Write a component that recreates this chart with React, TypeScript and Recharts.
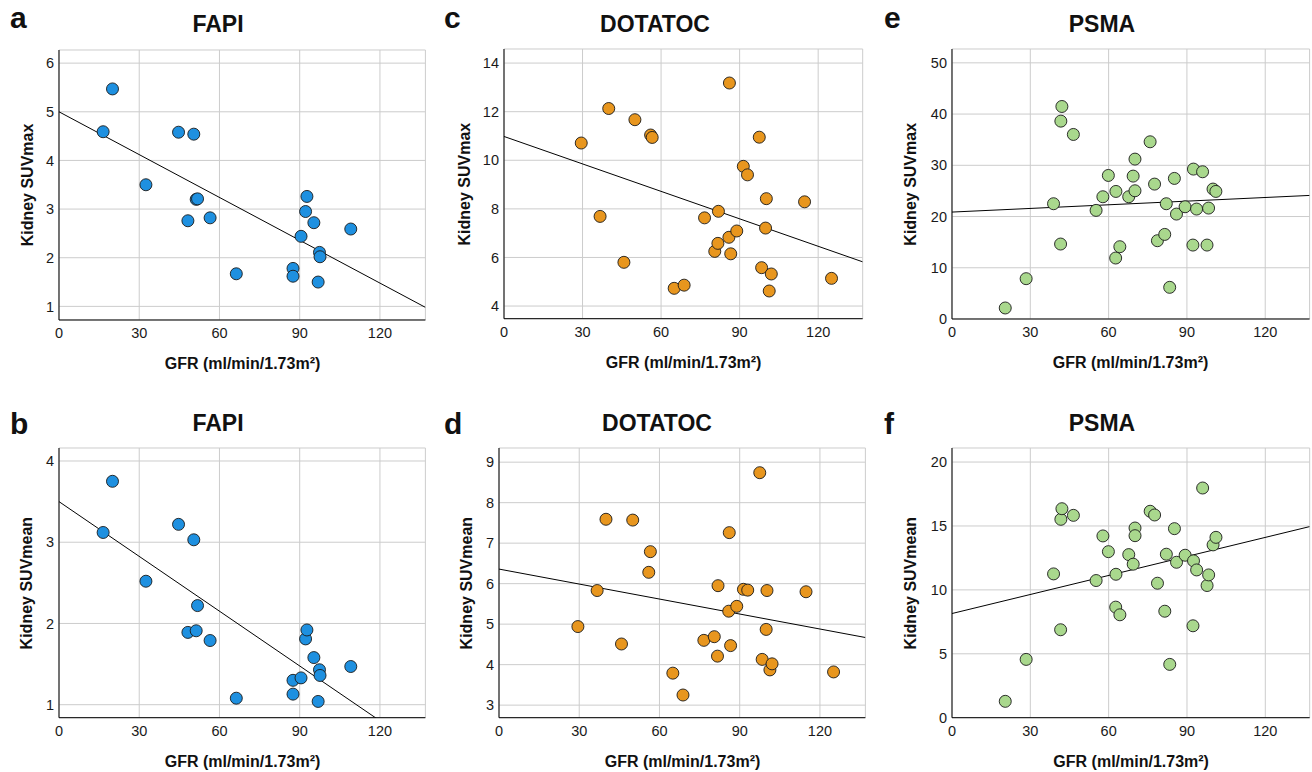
import React from "react";
import {
  ScatterChart,
  Scatter,
  XAxis,
  YAxis,
  CartesianGrid,
  ReferenceLine
} from "recharts";

// GFR values per tracer (ml/min/1.73m²)
const FAPI_GFR = [16.5, 20.0, 32.5, 44.7, 48.2, 50.4, 51.3, 51.8, 56.5, 66.3, 87.5, 87.5, 90.5, 92.2, 92.7, 95.3, 96.9, 97.4, 97.6, 109.1];
const FAPI_MAX = [4.59, 5.47, 3.5, 4.58, 2.76, 4.54, 3.2, 3.21, 2.82, 1.67, 1.78, 1.62, 2.44, 2.95, 3.26, 2.72, 1.5, 2.11, 2.02, 2.59];
const FAPI_MEAN = [3.12, 3.75, 2.52, 3.22, 1.89, 3.03, 1.91, 2.22, 1.79, 1.08, 1.3, 1.13, 1.33, 1.81, 1.92, 1.58, 1.04, 1.43, 1.36, 1.47];

const DOTATOC_GFR = [29.5, 36.7, 40.0, 45.8, 50.0, 56.0, 56.6, 65.0, 68.8, 76.6, 80.5, 81.7, 81.9, 85.9, 86.1, 86.6, 88.9, 91.4, 93.0, 97.5, 98.4, 99.9, 100.2, 101.3, 102.1, 114.8, 125.1];
const DOTATOC_MAX = [10.71, 7.69, 12.13, 5.8, 11.67, 11.04, 10.94, 4.73, 4.86, 7.63, 6.25, 6.58, 7.9, 6.83, 13.18, 6.15, 7.09, 9.75, 9.4, 10.95, 5.58, 7.21, 8.42, 4.62, 5.32, 8.29, 5.14];
const DOTATOC_MEAN = [4.94, 5.83, 7.59, 4.51, 7.57, 6.28, 6.79, 3.79, 3.25, 4.6, 4.69, 4.21, 5.95, 5.32, 7.26, 4.47, 5.44, 5.86, 5.84, 8.74, 4.13, 4.87, 5.83, 3.87, 4.02, 5.8, 3.82];

const PSMA_GFR = [20.4, 28.4, 38.9, 41.6, 41.7, 42.1, 46.5, 55.2, 57.8, 59.9, 62.7, 62.8, 64.3, 67.7, 69.4, 70.1, 70.1, 75.9, 77.6, 78.7, 81.5, 82.1, 83.4, 85.2, 86.0, 89.3, 92.3, 92.5, 93.7, 96.0, 97.7, 98.3, 100.0, 101.1];
const PSMA_MAX = [2.15, 7.87, 22.5, 14.63, 38.62, 41.48, 36.02, 21.2, 23.86, 28.02, 11.9, 24.9, 14.11, 23.86, 27.89, 31.21, 25.03, 34.59, 26.33, 15.28, 16.51, 22.5, 6.18, 27.44, 20.48, 21.91, 14.43, 29.26, 21.46, 28.74, 14.43, 21.65, 25.36, 24.9];
const PSMA_MEAN = [1.28, 4.56, 11.25, 6.88, 15.52, 16.35, 15.83, 10.73, 14.22, 12.99, 8.65, 11.22, 8.05, 12.76, 12.01, 14.84, 14.24, 16.15, 15.86, 10.52, 8.33, 12.79, 4.17, 14.79, 12.16, 12.71, 7.19, 12.27, 11.56, 17.97, 10.34, 11.17, 13.52, 14.11];

// fit lines: value at x = 0 and at x = 137
const FIT_X = [0, 137];
const FAPI_MAX_FIT = [5.0, 0.98];
const FAPI_MEAN_FIT = [3.5, 0.42];
const DOTATOC_MAX_FIT = [10.98, 5.82];
const DOTATOC_MEAN_FIT = [6.36, 4.67];
const PSMA_MAX_FIT = [20.87, 24.12];
const PSMA_MEAN_FIT = [8.15, 14.95];

const X_TICKS = [0, 30, 60, 90, 120];
const X_DOMAIN = [0, 137];

const panels = [
  { letter: "a", title: "FAPI", yLabel: "Kidney SUVmax", gfr: FAPI_GFR, suv: FAPI_MAX, fit: FAPI_MAX_FIT, color: "#1e90e0", domain: [0.72, 6.27], ticks: [1, 2, 3, 4, 5, 6] },
  { letter: "c", title: "DOTATOC", yLabel: "Kidney SUVmax", gfr: DOTATOC_GFR, suv: DOTATOC_MAX, fit: DOTATOC_MAX_FIT, color: "#e8961e", domain: [3.48, 14.58], ticks: [4, 6, 8, 10, 12, 14] },
  { letter: "e", title: "PSMA", yLabel: "Kidney SUVmax", gfr: PSMA_GFR, suv: PSMA_MAX, fit: PSMA_MAX_FIT, color: "#a9d88d", domain: [0, 52.7], ticks: [0, 10, 20, 30, 40, 50] },
  { letter: "b", title: "FAPI", yLabel: "Kidney SUVmean", gfr: FAPI_GFR, suv: FAPI_MEAN, fit: FAPI_MEAN_FIT, color: "#1e90e0", domain: [0.84, 4.16], ticks: [1, 2, 3, 4] },
  { letter: "d", title: "DOTATOC", yLabel: "Kidney SUVmean", gfr: DOTATOC_GFR, suv: DOTATOC_MEAN, fit: DOTATOC_MEAN_FIT, color: "#e8961e", domain: [2.69, 9.35], ticks: [3, 4, 5, 6, 7, 8, 9] },
  { letter: "f", title: "PSMA", yLabel: "Kidney SUVmean", gfr: PSMA_GFR, suv: PSMA_MEAN, fit: PSMA_MEAN_FIT, color: "#a9d88d", domain: [0, 21.1], ticks: [0, 5, 10, 15, 20] }
];

// plot-area boxes in page pixels, plus where the labels sit
const layout = [
  { left: 59.3, right: 425.7, top: 50, bottom: 320, letterX: 10, titleX: 218, yLabelX: 27 },
  { left: 504.3, right: 863, top: 49.3, bottom: 319, letterX: 444, titleX: 655, yLabelX: 465 },
  { left: 951.7, right: 1309.3, top: 49.3, bottom: 319.3, letterX: 884, titleX: 1102, yLabelX: 911 },
  { left: 59.3, right: 425.7, top: 448.3, bottom: 718, letterX: 10, titleX: 218, yLabelX: 27 },
  { left: 499.3, right: 865.7, top: 448.3, bottom: 718, letterX: 444, titleX: 657, yLabelX: 467 },
  { left: 952.3, right: 1310, top: 448.3, bottom: 718, letterX: 884, titleX: 1102, yLabelX: 911 }
];

const FONT = "'Liberation Sans', Arial, sans-serif";
const Y_AXIS_W = 50;
const M_TOP = 10;
const M_RIGHT = 2;
const X_AXIS_H = 30;

const Dot = (props: any) => {
  const { cx, cy, fill } = props;
  if (cx == null || cy == null) return null;
  return <circle cx={cx} cy={cy} r={6} fill={fill} stroke="#1a1a1a" strokeWidth={0.9} />;
};

function Panel({ p, box }: { p: any; box: any }) {
  const plotW = box.right - box.left;
  const plotH = box.bottom - box.top;
  const data = p.gfr.map((x: number, i: number) => ({ gfr: x, suv: p.suv[i] }));
  const tickStyle = { fill: "#1a1a1a", fontSize: 14.5, fontFamily: FONT };

  return (
    <div style={{ position: "absolute", left: box.left - Y_AXIS_W, top: box.top - M_TOP }}>
      <ScatterChart
        width={Y_AXIS_W + plotW + M_RIGHT}
        height={M_TOP + plotH + X_AXIS_H}
        margin={{ top: M_TOP, right: M_RIGHT, bottom: 0, left: 0 }}
      >
        <CartesianGrid stroke="#cccccc" />
        <XAxis
          type="number"
          dataKey="gfr"
          domain={X_DOMAIN}
          ticks={X_TICKS}
          interval={0}
          allowDataOverflow
          height={X_AXIS_H}
          tickLine={false}
          tickSize={0}
          tickMargin={8}
          axisLine={{ stroke: "#000" }}
          tick={tickStyle}
        />
        <YAxis
          type="number"
          dataKey="suv"
          domain={p.domain}
          ticks={p.ticks}
          interval={0}
          allowDataOverflow
          width={Y_AXIS_W}
          tickLine={false}
          tickSize={0}
          tickMargin={5}
          axisLine={{ stroke: "#000" }}
          tick={tickStyle}
        />
        <ReferenceLine
          segment={[
            { x: FIT_X[0], y: p.fit[0] },
            { x: FIT_X[1], y: p.fit[1] }
          ]}
          stroke="#000"
          strokeWidth={1}
          ifOverflow="hidden"
        />
        <Scatter data={data} fill={p.color} shape={Dot} isAnimationActive={false} />
      </ScatterChart>
    </div>
  );
}

export default function App() {
  return (
    <div style={{ position: "absolute", left: 0, top: 0, width: 1312, height: 772, background: "#fff", fontFamily: FONT }}>
      {panels.map((p, i) => (
        <Panel key={i} p={p} box={layout[i]} />
      ))}
      <svg width={1312} height={772} style={{ position: "absolute", left: 0, top: 0, pointerEvents: "none" }}>
        {panels.map((p, i) => {
          const box = layout[i];
          const row2 = box.top > 300;
          const midY = (box.top + box.bottom) / 2;
          const midX = (box.left + box.right) / 2;
          return (
            <g key={i} fontFamily={FONT} fill="#111" fontWeight="bold">
              <text x={box.letterX} y={row2 ? 434 : 28} fontSize={30}>{p.letter}</text>
              <text x={box.titleX} y={row2 ? 431 : 32} fontSize={23} textAnchor="middle">{p.title}</text>
              <text
                x={box.yLabelX}
                y={midY}
                fontSize={16}
                textAnchor="middle"
                dominantBaseline="central"
                transform={`rotate(-90 ${box.yLabelX} ${midY})`}
              >
                {p.yLabel}
              </text>
              <text x={midX} y={box.bottom + 43} fontSize={16} textAnchor="middle" dominantBaseline="central">
                GFR (ml/min/1.73m²)
              </text>
            </g>
          );
        })}
      </svg>
    </div>
  );
}
